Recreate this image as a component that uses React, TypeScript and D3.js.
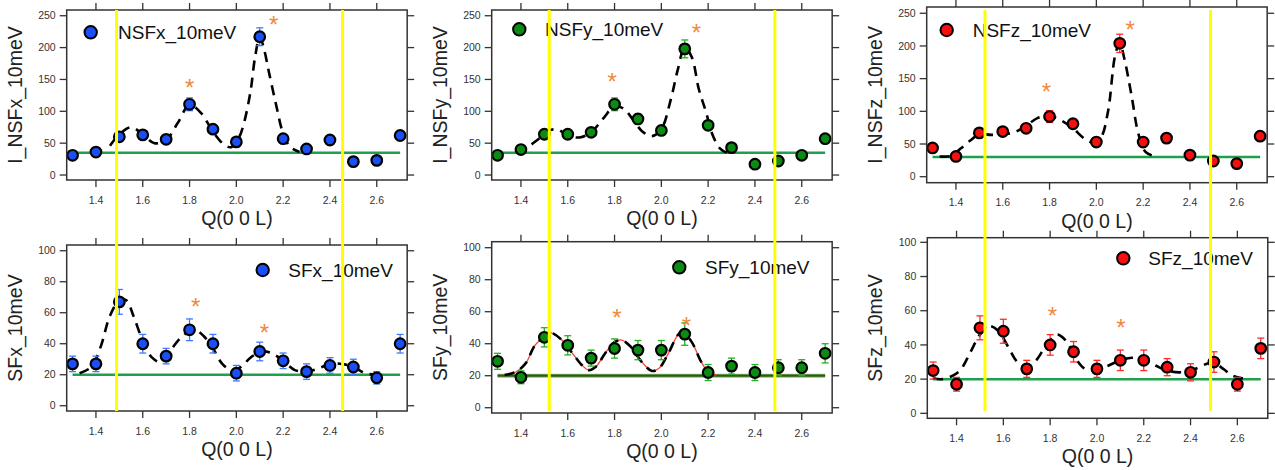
import React from "react";
import * as d3 from "d3";

// ---------- data ----------
const Q = [1.3, 1.4, 1.5, 1.6, 1.7, 1.8, 1.9, 2.0, 2.1, 2.2, 2.3, 2.4, 2.5, 2.6, 2.7];
const xTicks = [1.4, 1.6, 1.8, 2.0, 2.2, 2.4, 2.6];
const yTicksNSF = [0, 50, 100, 150, 200, 250];
const yTicksSF = [0, 20, 40, 60, 80, 100];

const nsfx = [31, 36, 60, 63, 56, 111, 72, 52, 217, 57, 41, 55, 21, 23, 62];
const nsfxErr = [4, 4, 6, 6, 5, 10, 6, 5, 14, 5, 4, 5, 3, 3, 6];
const nsfxFit: [number, number][] = [
  [1.46, 46], [1.5, 64], [1.55, 75], [1.6, 64], [1.65, 50], [1.7, 55], [1.75, 82], [1.8, 110],
  [1.85, 97], [1.9, 68], [1.95, 47], [1.98, 44], [2.01, 58], [2.03, 78], [2.06, 130], [2.08, 185],
  [2.1, 217], [2.12, 195], [2.14, 160], [2.17, 110], [2.2, 65], [2.23, 44], [2.27, 36],
];
const nsfxStars: [number, number][] = [[1.8, 145], [2.16, 244]];

const nsfy = [31, 40, 64, 64, 67, 111, 88, 70, 198, 78, 43, 17, 22, 31, 57];
const nsfyErr = [4, 5, 6, 5, 5, 10, 8, 6, 14, 7, 5, 3, 3, 4, 5];
const nsfyFit: [number, number][] = [
  [1.38, 37], [1.42, 42], [1.47, 55], [1.52, 70], [1.56, 71], [1.6, 62], [1.65, 59], [1.7, 67],
  [1.75, 88], [1.8, 108], [1.84, 104], [1.88, 86], [1.92, 68], [1.96, 61], [2.0, 72], [2.04, 118],
  [2.07, 165], [2.1, 200], [2.13, 185], [2.16, 135], [2.19, 100], [2.22, 62], [2.25, 42], [2.28, 35],
];
const nsfyStars: [number, number][] = [[1.79, 155], [2.15, 232]];

const nsfz = [44, 31, 67, 69, 74, 92, 81, 53, 204, 53, 59, 33, 24, 20, 62];
const nsfzErr = [5, 4, 6, 6, 6, 9, 7, 5, 14, 6, 6, 4, 4, 3, 6];
const nsfzFit: [number, number][] = [
  [1.33, 31], [1.38, 32], [1.42, 43], [1.46, 55], [1.5, 65], [1.55, 64], [1.6, 65], [1.65, 68],
  [1.7, 78], [1.75, 90], [1.8, 93], [1.85, 86], [1.9, 74], [1.95, 58], [1.99, 52], [2.02, 60],
  [2.05, 100], [2.08, 185], [2.1, 205], [2.12, 180], [2.15, 125], [2.18, 65], [2.21, 38], [2.25, 31],
];
const nsfzStars: [number, number][] = [[1.787, 139], [2.145, 233]];

const sfx = [27, 27, 67, 40, 32, 49, 40, 21, 35, 29, 22, 26, 25, 18, 40];
const sfxErr = [5, 5, 8, 6, 5, 7, 6, 5, 6, 5, 5, 5, 5, 4, 6];
const sfxFit: [number, number][] = [
  [1.33, 21], [1.38, 25], [1.42, 38], [1.46, 58], [1.5, 68], [1.53, 68], [1.56, 58], [1.6, 42],
  [1.64, 31], [1.68, 28], [1.72, 36], [1.77, 45], [1.82, 49], [1.86, 45], [1.9, 37], [1.94, 27],
  [1.98, 23], [2.02, 25], [2.06, 31], [2.11, 35], [2.15, 34], [2.2, 29], [2.25, 23], [2.3, 22],
  [2.35, 24], [2.4, 27], [2.45, 27], [2.5, 25], [2.55, 21], [2.6, 20], [2.63, 20],
];
const sfxStars: [number, number][] = [[1.826, 67.5], [2.12, 50.5]];

const sfy = [29, 19, 44, 39, 31, 37, 36, 36, 46, 22, 26, 22, 25, 25, 34];
const sfyErr = [5, 4, 6, 6, 5, 6, 6, 6, 7, 5, 5, 5, 5, 5, 6];
const sfyFit: [number, number][] = [
  [1.33, 20.4], [1.38, 22.5], [1.42, 27.7], [1.46, 39], [1.51, 45.4], [1.525, 46.9], [1.57, 43],
  [1.62, 34], [1.66, 26.7], [1.69, 23.5], [1.72, 25.6], [1.76, 34], [1.8, 41], [1.83, 42.3],
  [1.87, 38], [1.915, 28.8], [1.96, 23], [1.99, 24.6], [2.03, 34], [2.07, 45.4], [2.09, 47.5],
  [2.13, 41], [2.17, 28.8], [2.2, 22.5], [2.235, 20.4],
];
const sfyStars: [number, number][] = [[1.81, 59.6], [2.107, 54.8]];

const sfz = [25, 17, 50, 48, 26, 40, 36, 26, 31, 31, 27, 24, 30, 17, 38];
const sfzErr = [5, 4, 7, 7, 5, 6, 6, 5, 6, 6, 5, 5, 6, 4, 6];
const sfzFit: [number, number][] = [
  [1.3, 20.5], [1.34, 20], [1.39, 22.5], [1.42, 26], [1.46, 36], [1.5, 46], [1.54, 51], [1.58, 48],
  [1.62, 39], [1.66, 30], [1.7, 27], [1.74, 31], [1.78, 39], [1.83, 46], [1.87, 42], [1.91, 32],
  [1.95, 26], [2.0, 25.5], [2.05, 28], [2.1, 31], [2.15, 32.5], [2.2, 31.5], [2.25, 28], [2.3, 25],
  [2.36, 24], [2.42, 26], [2.47, 29], [2.5, 29.5], [2.54, 26], [2.58, 22], [2.62, 20.5], [2.65, 20],
];
const sfzStars: [number, number][] = [[1.81, 60.4], [2.102, 53]];

// background levels (green lines)
const backgrounds = [35, 35, 30, 20, 20, 20];
// yellow guide lines per column (Q values)
const yellowQ = [[1.488, 2.454], [1.521, 2.485], [1.524, 2.488]];

// ---------- style / layout ----------
const FONT = "'Liberation Sans', Arial, Helvetica, sans-serif";
const BLUE = "#1a4ff5", BLUE_E = "#3d7bff";
const GREEN = "#0a8c12", GREEN_E = "#22b022";
const RED = "#f51010", RED_E = "#ff2a2a";
const BG_GREEN = "#1ea04c";
const STAR = "#f0883c";
const XDOM: [number, number] = [1.275, 2.73];
const PXU = 234;

type Panel = {
  legend: string; ylabel: string; vals: number[]; errs: number[]; fit: [number, number][];
  stars: [number, number][]; bg: number; color: string; ecolor: string;
  l: number; t: number; b: number; yDom: [number, number]; yTicks: number[];
  lx: number; ly: number; tx: number; red?: boolean; olive?: boolean;
};

const panels: Panel[] = [
  { legend: "NSFx_10meV", ylabel: "I_NSFx_10meV", vals: nsfx, errs: nsfxErr, fit: nsfxFit, stars: nsfxStars, bg: backgrounds[0], color: BLUE, ecolor: BLUE_E,
    l: 66.7, t: 10, b: 180, yDom: [-7.8, 259], yTicks: yTicksNSF, lx: 90.7, ly: 32.3, tx: 118 },
  { legend: "NSFy_10meV", ylabel: "I_NSFy_10meV", vals: nsfy, errs: nsfyErr, fit: nsfyFit, stars: nsfyStars, bg: backgrounds[1], color: GREEN, ecolor: GREEN_E,
    l: 491.7, t: 10, b: 180, yDom: [-7.8, 259], yTicks: yTicksNSF, lx: 519.3, ly: 29.3, tx: 545 },
  { legend: "NSFz_10meV", ylabel: "I_NSFz_10meV", vals: nsfz, errs: nsfzErr, fit: nsfzFit, stars: nsfzStars, bg: backgrounds[2], color: RED, ecolor: RED_E,
    l: 926.7, t: 7, b: 182.7, yDom: [-9.2, 259.6], yTicks: yTicksNSF, lx: 946.7, ly: 30, tx: 972.7 },
  { legend: "SFx_10meV", ylabel: "SFx_10meV", vals: sfx, errs: sfxErr, fit: sfxFit, stars: sfxStars, bg: backgrounds[3], color: BLUE, ecolor: BLUE_E,
    l: 66.7, t: 245, b: 411, yDom: [-3.4, 103.7], yTicks: yTicksSF, lx: 262.7, ly: 270, tx: 288.3 },
  { legend: "SFy_10meV", ylabel: "SFy_10meV", vals: sfy, errs: sfyErr, fit: sfyFit, stars: sfyStars, bg: backgrounds[4], color: GREEN, ecolor: GREEN_E,
    l: 491.7, t: 241.7, b: 413, yDom: [-3.3, 103.75], yTicks: yTicksSF, lx: 679.3, ly: 267.3, tx: 705, red: true, olive: true },
  { legend: "SFz_10meV", ylabel: "SFz_10meV", vals: sfz, errs: sfzErr, fit: sfzFit, stars: sfzStars, bg: backgrounds[5], color: RED, ecolor: RED_E,
    l: 927.3, t: 237.7, b: 418.3, yDom: [-2.9, 102.7], yTicks: yTicksSF, lx: 1123.3, ly: 258.3, tx: 1148.3 },
];

function xScaleFor(p: Panel) {
  return d3.scaleLinear().domain(XDOM).range([p.l, p.l + (XDOM[1] - XDOM[0]) * PXU]);
}

function PanelView({ p }: { p: Panel }) {
  const x = xScaleFor(p);
  const y = d3.scaleLinear().domain(p.yDom).range([p.b, p.t]);
  const r = x.range()[1];
  const line = d3.line<[number, number]>().x((d) => x(d[0])).y((d) => y(d[1])).curve(d3.curveCatmullRom.alpha(0.5));
  const fitPath = line(p.fit) || "";
  const tick = 7;
  const cx = (p.l + r) / 2;
  const cy = (p.t + p.b) / 2;
  return (
    <g>
      {/* background line */}
      {p.olive ? (
        <g>
          <line x1={x(1.3)} x2={x(2.7)} y1={y(p.bg)} y2={y(p.bg)} stroke="#8cc47a" strokeWidth={4} />
          <line x1={x(1.3)} x2={x(2.7)} y1={y(p.bg)} y2={y(p.bg)} stroke="#2e5a10" strokeWidth={2.2} />
        </g>
      ) : (
        <line x1={x(1.3)} x2={x(2.7)} y1={y(p.bg)} y2={y(p.bg)} stroke={BG_GREEN} strokeWidth={2.5} />
      )}
      {/* fit */}
      {p.red && <path d={fitPath} fill="none" stroke="#ff3b3b" strokeWidth={1.3} />}
      <path d={fitPath} fill="none" stroke="#000" strokeWidth={2.6} strokeDasharray="10 7" />
      {/* error bars */}
      {Q.map((q, i) => (
        <g key={"e" + i} stroke={p.ecolor} strokeWidth={1.3}>
          <line x1={x(q)} x2={x(q)} y1={y(p.vals[i] - p.errs[i])} y2={y(p.vals[i] + p.errs[i])} />
          <line x1={x(q) - 3.5} x2={x(q) + 3.5} y1={y(p.vals[i] - p.errs[i])} y2={y(p.vals[i] - p.errs[i])} />
          <line x1={x(q) - 3.5} x2={x(q) + 3.5} y1={y(p.vals[i] + p.errs[i])} y2={y(p.vals[i] + p.errs[i])} />
        </g>
      ))}
      {/* markers */}
      {Q.map((q, i) => (
        <circle key={"m" + i} cx={x(q)} cy={y(p.vals[i])} r={5.3} fill={p.color} stroke="#000" strokeWidth={2.2} />
      ))}
      {/* stars */}
      {p.stars.map((s, i) => (
        <text key={"s" + i} x={x(s[0])} y={y(s[1]) + 13.7} textAnchor="middle" fontSize={24} fill={STAR} fontFamily={FONT}>*</text>
      ))}
      {/* legend */}
      <circle cx={p.lx} cy={p.ly} r={6.2} fill={p.color} stroke="#000" strokeWidth={2} />
      <text x={p.tx} y={p.ly + 6.8} fontSize={19} fontFamily={FONT} fill="#111">{p.legend}</text>
      {/* frame */}
      <rect x={p.l} y={p.t} width={r - p.l} height={p.b - p.t} fill="none" stroke="#333" strokeWidth={1.5} />
      {/* x ticks */}
      {xTicks.map((v) => (
        <g key={"xt" + v} stroke="#333" strokeWidth={1.3}>
          <line x1={x(v)} x2={x(v)} y1={p.b} y2={p.b + tick} />
          <line x1={x(v)} x2={x(v)} y1={p.t} y2={p.t - tick} />
        </g>
      ))}
      {xTicks.map((v) => (
        <text key={"xl" + v} x={x(v)} y={p.b + 23.5} textAnchor="middle" fontSize={10.5} fill="#333" fontFamily={FONT}>
          {d3.format(".1f")(v)}
        </text>
      ))}
      {/* y ticks */}
      {p.yTicks.map((v) => (
        <g key={"yt" + v} stroke="#333" strokeWidth={1.3}>
          <line x1={p.l} x2={p.l - tick} y1={y(v)} y2={y(v)} />
          <line x1={r} x2={r + tick} y1={y(v)} y2={y(v)} />
        </g>
      ))}
      {p.yTicks.map((v) => (
        <text key={"yl" + v} x={p.l - 11} y={y(v) + 3.7} textAnchor="end" fontSize={10.5} fill="#333" fontFamily={FONT}>
          {v}
        </text>
      ))}
      {/* axis titles */}
      <text x={cx} y={p.b + 45} textAnchor="middle" fontSize={19.5} fill="#222" fontFamily={FONT}>Q(0 0 L)</text>
      <text transform={`translate(${p.l - 45},${cy}) rotate(-90)`} textAnchor="middle" fontSize={19.5} fill="#222" fontFamily={FONT}>
        {p.ylabel}
      </text>
    </g>
  );
}

export default function App() {
  return (
    <div style={{ position: "absolute", left: 0, top: 0 }}>
      <svg width={1275} height={470} style={{ display: "block", background: "#fff" }}>
        {panels.map((p, i) => (
          <PanelView key={i} p={p} />
        ))}
        {yellowQ.map((qs, c) => {
          const x = xScaleFor(panels[c]);
          return qs.map((q, j) => (
            <line key={c + "-" + j} x1={x(q)} x2={x(q)} y1={10} y2={411} stroke="#ffff00" strokeWidth={3} />
          ));
        })}
      </svg>
    </div>
  );
}
